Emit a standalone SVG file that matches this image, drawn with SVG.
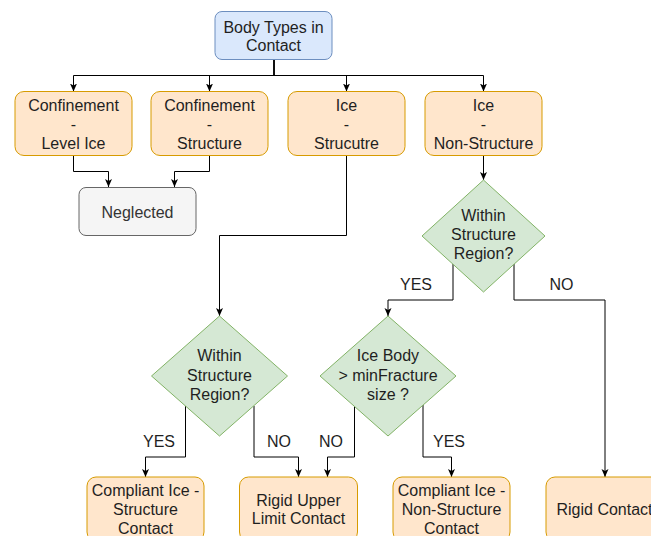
<svg xmlns="http://www.w3.org/2000/svg" width="651" height="536" viewBox="0 0 651 536">
<defs>
<marker id="arr" viewBox="0 0 8 8" refX="8" refY="4" markerWidth="8" markerHeight="8" markerUnits="userSpaceOnUse" orient="auto">
<path d="M0,0.5 L8,4 L0,7.5 L2,4 Z" fill="#000"/>
</marker>
<style>
text{font-family:"Liberation Sans",Arial,sans-serif;font-size:16px;text-anchor:middle;fill:#1f1f1f}
.blue{fill:#dae8fc;stroke:#6c8ebf;stroke-width:1}
.orange{fill:#ffe6cc;stroke:#d79b00;stroke-width:1}
.gray{fill:#f5f5f5;stroke:#666666;stroke-width:1}
.green{fill:#d5e8d4;stroke:#82b366;stroke-width:1}
.gray-t{fill:#333333}
.edge{fill:none;stroke:#000;stroke-width:1;marker-end:url(#arr)}
</style>
</defs>
<rect width="651" height="536" fill="#fff"/>
<g id="connectors">
<path class="edge" d="M274,59.5 V75.5 H73.5 V91.5"/>
<path class="edge" d="M274,59.5 V75.5 H209.5 V91.5"/>
<path class="edge" d="M274,59.5 V75.5 H346.5 V91.5"/>
<path class="edge" d="M274,59.5 V75.5 H483.5 V91.5"/>
<path class="edge" d="M73.5,155.5 V171.5 H108.5 V187"/>
<path class="edge" d="M209.5,155.5 V171.5 H174.5 V187"/>
<path class="edge" d="M346.5,155.5 V235.5 H219.5 V316"/>
<path class="edge" d="M483.5,155.5 V180"/>
<path class="edge" d="M453,264 V300 H388 V316"/>
<path class="edge" d="M514,264 V300 H605 V477"/>
<path class="edge" d="M185.5,406 V457 H145.5 V477"/>
<path class="edge" d="M254,406 V457 H298.5 V477"/>
<path class="edge" d="M354.5,406 V457 H327.5 V477"/>
<path class="edge" d="M423,405 V457 H451.5 V477"/>
<text x="416" y="290">YES</text>
<text x="561.5" y="290">NO</text>
<text x="159" y="447">YES</text>
<text x="279" y="447">NO</text>
<text x="331" y="447">NO</text>
<text x="449" y="447">YES</text>
</g>
<g id="body-types">
<rect class="blue" x="215" y="11.5" width="117" height="48" rx="7"/>
<text x="273.5" y="32.5">Body Types in</text>
<text x="273.5" y="51">Contact</text>
</g>
<g id="conf-level-ice">
<rect class="orange" x="15" y="91.5" width="117" height="64" rx="9"/>
<text x="73.5" y="111">Confinement</text>
<text x="73.5" y="130">-</text>
<text x="73.5" y="149">Level Ice</text>
</g>
<g id="conf-structure">
<rect class="orange" x="151" y="91.5" width="117" height="64" rx="9"/>
<text x="209.5" y="111">Confinement</text>
<text x="209.5" y="130">-</text>
<text x="209.5" y="149">Structure</text>
</g>
<g id="ice-structure">
<rect class="orange" x="288" y="91.5" width="117" height="64" rx="9"/>
<text x="346.5" y="111">Ice</text>
<text x="346.5" y="130">-</text>
<text x="346.5" y="149">Strucutre</text>
</g>
<g id="ice-non-structure">
<rect class="orange" x="425" y="91.5" width="117" height="64" rx="9"/>
<text x="483.5" y="111">Ice</text>
<text x="483.5" y="130">-</text>
<text x="483.5" y="149">Non-Structure</text>
</g>
<g id="neglected">
<rect class="gray" x="79" y="187.5" width="117" height="48" rx="7"/>
<text class="gray-t" x="137.5" y="218">Neglected</text>
</g>
<g id="within-region-1">
<polygon class="green" points="483.5,180 545,236 483.5,292 422,236"/>
<text x="483.5" y="221">Within</text>
<text x="483.5" y="240">Structure</text>
<text x="483.5" y="259">Region?</text>
</g>
<g id="within-region-2">
<polygon class="green" points="219.5,316 287.5,376 219.5,436 151.5,376"/>
<text x="219.5" y="361">Within</text>
<text x="219.5" y="380.5">Structure</text>
<text x="219.5" y="400">Region?</text>
</g>
<g id="ice-body-size">
<polygon class="green" points="388,316 456,376 388,436 320,376"/>
<text x="388" y="361">Ice Body</text>
<text x="388" y="380.5">&gt; minFracture</text>
<text x="388" y="400">size ?</text>
</g>
<g id="compliant-structure">
<rect class="orange" x="87" y="477" width="117" height="64" rx="9"/>
<text x="145.5" y="495.5">Compliant Ice -</text>
<text x="145.5" y="515">Structure</text>
<text x="145.5" y="534">Contact</text>
</g>
<g id="rigid-upper">
<rect class="orange" x="239.5" y="477" width="118" height="64" rx="9"/>
<text x="298.5" y="505.5">Rigid Upper</text>
<text x="298.5" y="524">Limit Contact</text>
</g>
<g id="compliant-non-structure">
<rect class="orange" x="393" y="477" width="117" height="64" rx="9"/>
<text x="451.5" y="495.5">Compliant Ice -</text>
<text x="451.5" y="515">Non-Structure</text>
<text x="451.5" y="534">Contact</text>
</g>
<g id="rigid-contact">
<rect class="orange" x="546" y="477" width="117" height="64" rx="9"/>
<text x="604.5" y="515">Rigid Contact</text>
</g>
</svg>
